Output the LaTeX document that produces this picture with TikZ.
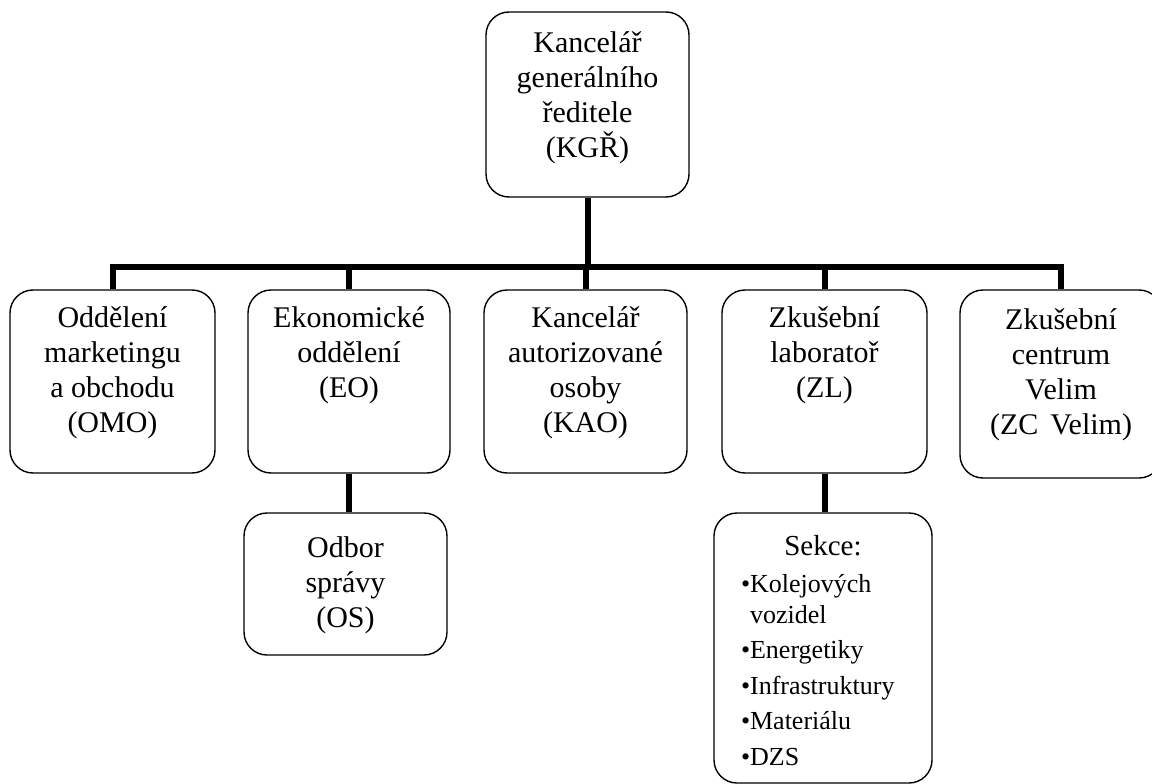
\documentclass[tikz,border=0pt]{standalone}
\usepackage{fontspec}
\setmainfont{Liberation Serif}
\newcommand\boxtext[4]{\parbox[c][#2][t]{#1}{\centering\fontsize{30}{35}\selectfont\rule{0pt}{#3}#4}}
\begin{document}
\begin{tikzpicture}[x=1pt,y=-1pt,
  box/.style={draw, line width=1.4pt, rounded corners=23pt, inner sep=0pt, fill=white},
  conn/.style={line width=6pt}]
\useasboundingbox[fill=white] (0,0) rectangle (1152,784);

\node[box] (kgr) at (587.5,104.5) {\boxtext{203pt}{185pt}{40pt}{Kancelář\\generálního\\ředitele\\(KGŘ)}};

\node[box] (omo) at (112.5,381.5) {\boxtext{205pt}{183pt}{37pt}{Oddělení\\marketingu\\a obchodu\\(OMO)}};
\node[box] (eo) at (349,381.5) {\boxtext{202pt}{183pt}{37pt}{Ekonomické\\oddělení\\(EO)}};
\node[box] (kao) at (585.5,381.5) {\boxtext{203pt}{183pt}{37pt}{Kancelář\\autorizované\\osoby\\(KAO)}};
\node[box] (zl) at (824.5,381.5) {\boxtext{205pt}{183pt}{37pt}{Zkušební\\laboratoř\\(ZL)}};
\node[box] (zc) at (1061,384) {\boxtext{202pt}{188pt}{39pt}{Zkušební\\centrum\\Velim\\(ZC\hspace{0.15em} Velim)}};

\node[box] (os) at (345.5,584) {\boxtext{203pt}{142pt}{44pt}{Odbor\\správy\\(OS)}};

\node[box] (sek) at (823,648) {\parbox[c][270pt][t]{218pt}{%
  \fontsize{29}{35}\selectfont\centering\rule{0pt}{42pt}Sekce:\par
  \vspace{6pt}%
  \fontsize{26}{31}\selectfont\raggedright\leftskip=27pt\relax
  \textbullet Kolejových\\\phantom{\textbullet}vozidel\\[4.5pt]
  \textbullet Energetiky\\[4.5pt]
  \textbullet Infrastruktury\\[4.5pt]
  \textbullet Materiálu\\[4.5pt]
  \textbullet DZS\par}};

\coordinate (bus) at (587,267);
\draw[conn] (kgr.south) -- (kgr.south |- bus);
\foreach \n in {omo,eo,kao,zl,zc}{
  \draw[conn] (kgr.south |- bus) -| (\n.north);
}
\draw[conn] (eo.south) -- (eo.south |- os.north);
\draw[conn] (zl.south) -- (zl.south |- sek.north);
\end{tikzpicture}
\end{document}
